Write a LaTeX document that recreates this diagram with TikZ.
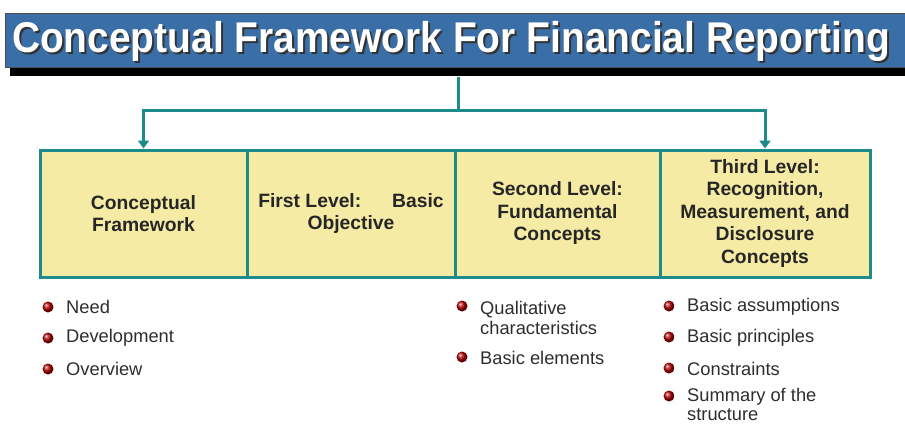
\documentclass[tikz,border=0pt]{standalone}
\usepackage{fontspec}
\setmainfont{Liberation Sans}
\usetikzlibrary{arrows.meta,shadings}
\definecolor{titleblue}{RGB}{58,110,166}
\definecolor{teal}{RGB}{30,139,139}
\definecolor{boxfill}{RGB}{246,235,165}
\definecolor{bullettext}{RGB}{45,45,45}
\tikzset{
  levelbox/.style={draw=teal, line width=3pt, fill=boxfill, minimum height=127pt, inner sep=0pt, align=center,
    font=\fontsize{19.3}{22.5}\selectfont\bfseries, text=black!85},
  conn/.style={draw=teal, line width=3pt},
  tip/.style={-{Triangle[width=11pt,length=8pt]}},
  bul/.style={circle, inner sep=0pt, minimum size=11pt, shading=ball, ball color=red!70!black},
  btext/.style={anchor=west, inner sep=0pt, align=left, text=bullettext, font=\fontsize{18.3}{20.5}\selectfont},
  titletext/.style={font=\fontsize{43}{43}\selectfont\bfseries, xscale=0.905, anchor=center}
}
\begin{document}
\begin{tikzpicture}[x=1pt,y=-1pt]
\useasboundingbox (0,0) rectangle (905,426);
% title bar
\fill[black] (10,60) rectangle (905,76);
\node[fill=titleblue, draw=black!70, line width=0.6pt, minimum width=900pt, minimum height=54pt, anchor=north west, inner sep=0pt] (title) at (5,13) {};
\node[titletext, text=black!80] (tshadow) at (453,43) {Conceptual Framework For Financial Reporting};
\node[titletext, text=white] (ttext) at (451,41) {Conceptual Framework For Financial Reporting};
% boxes
\node[levelbox, minimum width=207pt] (b1) at (143.5,213.5) {Conceptual\\Framework};
\node[levelbox, minimum width=208pt] (b2) at (351,213.5) {First Level:\hspace{1.6em}Basic\\Objective};
\node[levelbox, minimum width=205pt] (b3) at (557.5,213.5) {Second Level:\\Fundamental\\Concepts};
\node[levelbox, minimum width=210pt] (b4) at (765,213.5) {Third Level:\\Recognition,\\Measurement, and\\Disclosure\\Concepts};
% connectors
\coordinate (j) at (458,110);
\draw[conn] (title.south -| j) ++(0,9) -- (j);
\draw[conn, tip] ([xshift=1.5pt]j) -| (b1.north);
\draw[conn, tip] ([xshift=-1.5pt]j) -| (b4.north);
% bullets column 1
\node[bul] (p1) at (48,307) {};
\node[btext] (t1) at (66,307) {Need};
\node[bul] (p2) at (48,338) {};
\node[btext] (t2) at (66,338) {Development};
\node[bul] (p3) at (48,369) {};
\node[btext] (t3) at (66,369) {Overview};
% bullets column 2
\node[bul] (q1) at (462,306) {};
\node[btext, anchor=north west] (u1) at (480,301) {Qualitative\\characteristics};
\node[bul] (q2) at (462,357) {};
\node[btext] (u2) at (480,358) {Basic elements};
% bullets column 3
\node[bul] (r1) at (669,306) {};
\node[btext] (v1) at (687,307) {Basic assumptions};
\node[bul] (r2) at (669,337) {};
\node[btext] (v2) at (687,338) {Basic principles};
\node[bul] (r3) at (669,368) {};
\node[btext] (v3) at (687,369) {Constraints};
\node[bul] (r4) at (669,396) {};
\node[btext, anchor=north west, font=\fontsize{18.3}{19.5}\selectfont] (v4) at (687,388) {Summary of the\\structure};
\end{tikzpicture}
\end{document}
